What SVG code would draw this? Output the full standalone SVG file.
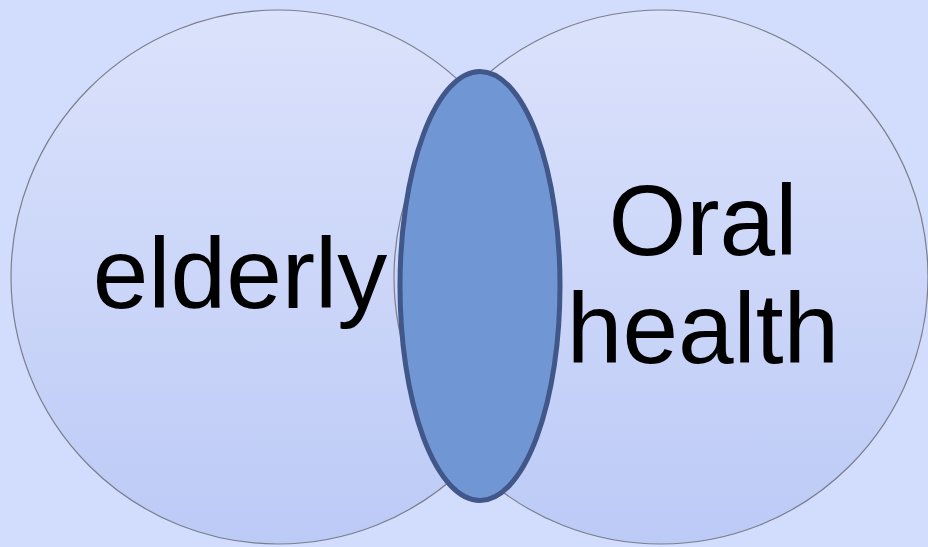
<svg xmlns="http://www.w3.org/2000/svg" width="928" height="547" viewBox="0 0 928 547">
<defs>
<linearGradient id="cg" x1="0" y1="0" x2="0" y2="1">
<stop offset="0" stop-color="#dbe2fb"/>
<stop offset="1" stop-color="#bccaf6"/>
</linearGradient>
</defs>
<style>
.circle{fill:url(#cg);stroke:#7a7f8c;stroke-width:1.2}
.lbl{font-family:"Liberation Sans",Arial,sans-serif;font-size:100px;fill:#000}
</style>
<rect width="928" height="547" fill="#d2dcfc"/>
<g id="left-circle"><circle class="circle" cx="278" cy="277" r="267"/></g>
<g id="right-circle"><circle class="circle" cx="661" cy="277" r="267"/></g>
<g id="overlap"><ellipse cx="480" cy="286" rx="80" ry="214.5" fill="#7097d3" stroke="#415689" stroke-width="5"/></g>
<g id="label-elderly"><text class="lbl" x="240" y="308" text-anchor="middle">elderly</text></g>
<g id="label-oral-health"><text class="lbl" text-anchor="middle"><tspan x="703" y="255">Oral</tspan><tspan x="703" y="363">health</tspan></text></g>
<g id="connectors"/>
</svg>
